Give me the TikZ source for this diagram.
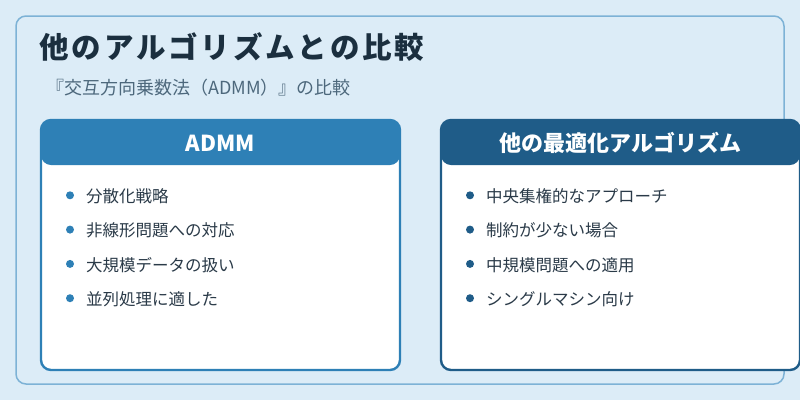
\documentclass[tikz,border=0pt]{standalone}
\usepackage{fontspec}
\setmainfont{Noto Sans CJK JP}
\usepackage{xcolor}
\definecolor{CmpPaper}{HTML}{DCECF7}
\definecolor{CmpFrame}{HTML}{7DB2D6}
\definecolor{CmpBlue}{HTML}{2E80B6}
\definecolor{CmpNavy}{HTML}{1F5C88}
\definecolor{CmpInk}{HTML}{1B2F3F}
\definecolor{CmpGrey}{HTML}{4D687C}
\definecolor{CmpText}{HTML}{2A3A48}
\usetikzlibrary{positioning}
\tikzset{
  frame/.style={draw=CmpFrame,line width=1.5pt,fill=CmpPaper,rounded corners=10pt},
  titletext/.style={font=\fontsize{29.5}{34}\selectfont\bfseries\addfontfeature{LetterSpace=10},text=CmpInk,inner sep=0pt,anchor=west},
  subtext/.style={font=\fontsize{18}{21}\selectfont,text=CmpGrey,inner sep=0pt,anchor=west},
  card/.style={draw=#1,line width=2.4pt,fill=white,rounded corners=10pt,minimum width=359pt,minimum height=250pt,inner sep=0pt},
  headfill/.style={fill=#1,rounded corners=10pt},
  headtext/.style={font=\fontsize{22}{26}\selectfont\bfseries,text=white,inner sep=0pt},
  itemtext/.style={font=\fontsize{16.5}{20}\selectfont,text=CmpText,inner sep=0pt,anchor=west},
  dot/.style={circle,fill=#1,inner sep=0pt,minimum size=8pt}
}
\begin{document}
\begin{tikzpicture}[x=1pt,y=-1pt]
  \useasboundingbox[fill=CmpPaper] (0,0) rectangle (800,400);
  \draw[frame] (16,16) rectangle (784,384);
  \node[titletext] (title) at (39,47) {他のアルゴリズムとの比較};
  \node[subtext] (sub) at (46,88) {『交互方向乗数法（ADMM）』の比較};
  % ADMM card
  \node[card=CmpBlue] (admm) at (220.5,245) {};
  \fill[headfill=CmpBlue] (41,165) |- (220,120) -| (400,165) -- cycle;
  \node[headtext] (admmhead) at (220.5,143) {ADMM};
  \foreach \t [count=\i] in {分散化戦略,非線形問題への対応,大規模データの扱い,並列処理に適した}{
    \node[dot=CmpBlue] (adot\i) at (70,161+34.3*\i) {};
    \node[itemtext] (aitem\i) at (86,162+34.3*\i) {\t};
  }
  % other algorithms card
  \node[card=CmpNavy] (other) at (620.5,245) {};
  \fill[headfill=CmpNavy] (441,165) |- (620,120) -| (800,165) -- cycle;
  \node[headtext] (otherhead) at (620.5,143) {他の最適化アルゴリズム};
  \foreach \t [count=\i] in {中央集権的なアプローチ,制約が少ない場合,中規模問題への適用,シングルマシン向け}{
    \node[dot=CmpNavy] (odot\i) at (470,161+34.3*\i) {};
    \node[itemtext] (oitem\i) at (486,162+34.3*\i) {\t};
  }
\end{tikzpicture}
\end{document}
